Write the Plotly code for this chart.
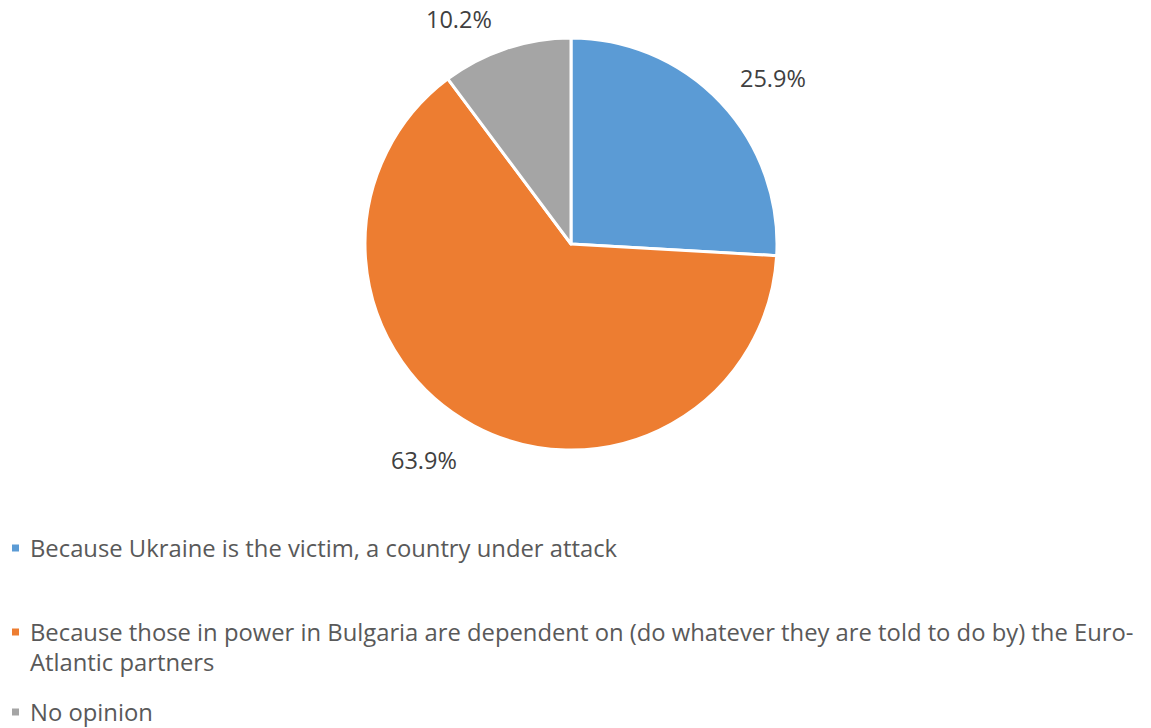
import math
import plotly.graph_objects as go

# Survey answers and their shares (%)
categories = [
    "Because Ukraine is the victim, a country under attack",
    "Because those in power in Bulgaria are dependent on (do whatever they are told to do by) the Euro-<br>Atlantic partners",
    "No opinion",
]
shares = [25.9, 63.9, 10.2]
colors = ["#5B9BD5", "#ED7D31", "#A5A5A5"]

W, H = 1151, 728
cx, cy, r = 571, 244, 206  # pie centre and radius in pixels

fig = go.Figure(
    go.Pie(
        labels=categories,
        values=shares,
        sort=False,
        direction="clockwise",
        rotation=0,
        marker=dict(colors=colors, line=dict(color="white", width=3)),
        textinfo="none",
        hoverinfo="label+percent",
        showlegend=False,
        domain=dict(
            x=[(cx - r) / W, (cx + r) / W],
            y=[1 - (cy + r) / H, 1 - (cy - r) / H],
        ),
    )
)

FONT = "Open Sans, Lato, sans-serif"

# Outside data labels, placed around each slice's mid-angle
label_font = dict(family=FONT, size=23.5, color="#404040")
angle_shift = [4, 6, -8]      # degrees, nudge along the rim
radius_factor = [1.27, 1.27, 1.22]
cum = 0.0
total = sum(shares)
for i, v in enumerate(shares):
    mid = (cum + v / 2) / total * 360 + angle_shift[i]
    cum += v
    R = r * radius_factor[i]
    px = cx + R * math.sin(math.radians(mid))
    py = cy - R * math.cos(math.radians(mid))
    fig.add_annotation(
        x=px / W, y=1 - py / H, xref="paper", yref="paper",
        text=f"{v:.1f}%", showarrow=False, font=label_font,
        xanchor="center", yanchor="middle",
    )

# Legend drawn beneath the pie
legend_font = dict(family=FONT, size=23.8, color="#595959")
legend_rows = [548, 632, 712]  # first-line centres, pixels from top
line_step = 30
for name, col, row in zip(categories, colors, legend_rows):
    fig.add_shape(
        type="rect", xref="paper", yref="paper",
        x0=12 / W, x1=19 / W, y0=1 - (row + 3.5) / H, y1=1 - (row - 3.5) / H,
        fillcolor=col, line=dict(width=0),
    )
    for k, part in enumerate(name.split("<br>")):
        fig.add_annotation(
            x=28 / W, y=1 - (row + k * line_step) / H, xref="paper", yref="paper",
            text=part, showarrow=False, font=legend_font, align="left",
            xanchor="left", yanchor="middle",
        )

fig.update_layout(
    width=W, height=H,
    margin=dict(l=0, r=0, t=0, b=0),
    paper_bgcolor="white",
    plot_bgcolor="white",
)

fig.write_html("out.html")
